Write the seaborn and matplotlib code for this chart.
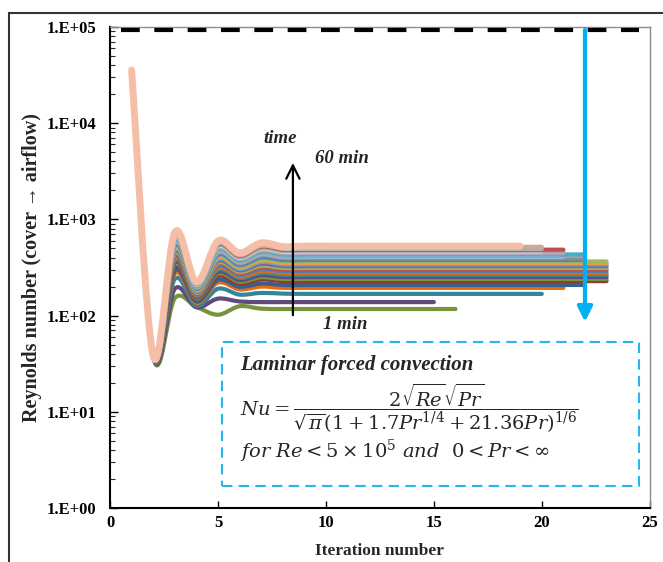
#!/usr/bin/env python3
# -*- coding: utf-8 -*-

"""
Reynolds number at the cover -> airflow boundary versus iteration number,
one curve per simulated minute (1 min at the bottom, 60 min on top).
"""

import numpy as np
import matplotlib
matplotlib.use("Agg")
import matplotlib.pyplot as plt
from matplotlib.path import Path
from matplotlib.patches import PathPatch, Rectangle
from matplotlib.ticker import LogLocator, NullFormatter
import seaborn as sns

# --- data ----------------------------------------------------------------
# every curve shares the first two iterations
re_start = [35700, 38]

# values at iterations 3..8, bottom curve (1 min) first
re_it3 = [152, 190, 240, 274, 294, 322, 339, 356, 373, 390, 407, 424, 442, 461, 480, 497,
          516, 534, 554, 572, 591, 610, 630, 650, 667, 684, 698, 708, 715, 722, 728, 735]
re_it4 = [123, 122, 126, 135, 140, 147, 150, 154, 158, 162, 165, 168, 172, 176, 179, 182,
          186, 189, 193, 196, 199, 202, 205, 209, 211, 214, 216, 219, 220, 221, 222, 223]
re_it5 = [102, 150, 190, 220, 235, 258, 272, 285, 299, 312, 326, 340, 354, 369, 385, 398,
          413, 428, 444, 458, 473, 489, 505, 521, 534, 548, 559, 572, 580, 586, 591, 596]
re_it6 = [125, 140, 165, 187, 199, 215, 225, 235, 245, 254, 264, 274, 284, 294, 305, 315,
          325, 335, 346, 356, 365, 376, 387, 397, 406, 415, 423, 431, 436, 441, 444, 448]
re_it7 = [118, 138, 172, 200, 215, 237, 250, 263, 276, 289, 302, 315, 330, 344, 360, 373,
          387, 402, 418, 432, 446, 461, 477, 493, 506, 520, 531, 544, 552, 558, 563, 569]
re_it8 = [117, 138, 169, 194, 208, 228, 240, 252, 264, 276, 288, 300, 313, 326, 340, 352,
          365, 378, 392, 405, 418, 432, 446, 460, 472, 484, 494, 505, 512, 518, 522, 520]
# flat level from iteration 9 up to the last iteration of each curve
re_plateau = [117, 138, 168, 194, 208, 228, 240, 252, 264, 276, 288, 300, 313, 326, 340, 352,
              365, 378, 392, 405, 418, 432, 446, 460, 472, 484, 494, 505, 512, 518, 522, 527]
last_iter = [16, 15, 20, 21, 22, 23, 23, 23, 23, 23, 23, 23, 23, 23, 23, 23,
             23, 22, 22, 21, 22, 22, 21, 20, 21, 21, 20, 20, 19, 20, 19, 19]

curve_colors = ['#77933C', '#604A7B', '#31859C', '#E46C0A', '#376092', '#953735',
                '#77933C', '#604A7B', '#31859C', '#E46C0A', '#4F81BD', '#C0504D',
                '#9BBB59', '#8064A2', '#4BACC6', '#F79646', '#9BBB59', '#4F81BD',
                '#8C8C8C', '#95B3D7', '#A6A6A6', '#4BACC6', '#B3A2C7', '#C3D69B',
                '#A5A5A5', '#C0504D', '#B9B9B9', '#D99694', '#E6B9B8', '#C8A9A0',
                '#F2C9B5', '#F4BFA6']

re_limit = 9.3e4
limit_x = [0.5, 24.5]

y_ticks = [1, 10, 100, 1000, 10000, 100000]
y_tick_labels = ['1.E+00', '1.E+01', '1.E+02', '1.E+03', '1.E+04', '1.E+05']
x_ticks = [0, 5, 10, 15, 20, 25]


def smooth_path(x, y):
    """Smoothed (Excel-like) Bezier path through the points, built in log-y space."""
    px = np.asarray(x, dtype=float)
    py = np.log10(np.asarray(y, dtype=float))
    n = len(px)
    verts = [(px[0], py[0])]
    codes = [Path.MOVETO]
    for i in range(n - 1):
        a = i - 1 if i > 0 else i
        b = i + 2 if i + 2 < n else i + 1
        c1 = (px[i] + (px[i + 1] - px[a]) / 6, py[i] + (py[i + 1] - py[a]) / 6)
        c2 = (px[i + 1] - (px[b] - px[i]) / 6, py[i + 1] - (py[b] - py[i]) / 6)
        verts += [c1, c2, (px[i + 1], py[i + 1])]
        codes += [Path.CURVE4] * 3
    verts = np.array(verts)
    verts[:, 1] = 10 ** verts[:, 1]
    return Path(verts, codes)


sns.set_theme(style="white")
plt.rcParams['font.family'] = ['Liberation Serif', 'DejaVu Serif']
plt.rcParams['mathtext.fontset'] = 'dejavuserif'

fig = plt.figure(figsize=(6.63, 5.62), dpi=100)
ax = fig.add_axes([0.166, 0.0961, 0.814, 0.856])
ax.set_yscale('log')
ax.set_xlim(0, 25)
ax.set_ylim(1, 1e5)

palette = sns.color_palette(curve_colors)

# curves, 1 min first so that 60 min ends up on top
for k in range(len(re_plateau)):
    n_iter = last_iter[k]
    xs = list(range(1, n_iter + 1))
    ys = re_start + [re_it3[k], re_it4[k], re_it5[k], re_it6[k], re_it7[k], re_it8[k]]
    ys = ys + [re_plateau[k]] * (n_iter - len(ys))
    lw = 5.0 if k == len(re_plateau) - 1 else 3.0
    patch = PathPatch(smooth_path(xs, ys), facecolor='none', edgecolor=palette[k],
                      lw=lw, capstyle='round', joinstyle='round', zorder=2 + k * 0.01)
    ax.add_patch(patch)

# upper limit line
ax.plot(limit_x, [re_limit, re_limit], color='black', lw=3, linestyle=(0, (4.5, 3.5)),
        solid_capstyle='butt', zorder=3)

# blue arrow
ax.annotate('', xy=(22.0, 86), xytext=(22.0, re_limit),
            arrowprops=dict(arrowstyle='-|>', color='#00B0F0', lw=3, mutation_scale=22,
                            shrinkA=0, shrinkB=0), zorder=4)

# time arrow
ax.annotate('', xy=(8.47, 3860), xytext=(8.47, 101),
            arrowprops=dict(arrowstyle='->', color='black', lw=1.6, mutation_scale=24,
                            shrinkA=0, shrinkB=0), zorder=4)
ax.text(7.87, 7000, 'time', ha='center', va='center', fontsize=13.5,
        fontweight='bold', fontstyle='italic')
ax.text(10.74, 4250, '60 min', ha='center', va='center', fontsize=13.5,
        fontweight='bold', fontstyle='italic')
ax.text(10.88, 80, '1 min', ha='center', va='center', fontsize=13.5,
        fontweight='bold', fontstyle='italic')

# correlation box
box = Rectangle((0.207, 0.0457), 0.774, 0.299, transform=ax.transAxes, fill=False,
                edgecolor='#29B6EE', lw=1.5, linestyle=(0, (5, 3)), zorder=5)
ax.add_patch(box)
ax.text(0.241, 0.287, 'Laminar forced convection', transform=ax.transAxes,
        ha='left', va='baseline', fontsize=15, fontweight='bold', fontstyle='italic')
ax.text(0.241, 0.208,
        r'$Nu = \dfrac{2\sqrt{Re}\sqrt{Pr}}{\sqrt{\pi}(1 + 1.7Pr^{1/4} + 21.36Pr)^{1/6}}$',
        transform=ax.transAxes, ha='left', va='center', fontsize=14)
ax.text(0.241, 0.104, r'$for\ Re < 5 \times 10^5\ and\ \ 0 < Pr < \infty$',
        transform=ax.transAxes, ha='left', va='baseline', fontsize=14)

# axes styling
ax.set_yticks(y_ticks)
ax.set_yticklabels(y_tick_labels, fontsize=12, fontweight='bold')
ax.yaxis.set_minor_locator(LogLocator(base=10, subs=range(2, 10), numticks=20))
ax.yaxis.set_minor_formatter(NullFormatter())
ax.set_xticks(x_ticks)
ax.set_xticklabels([str(t) for t in x_ticks], fontsize=12, fontweight='bold')
ax.tick_params(axis='y', which='major', direction='in', length=6, width=1, left=True,
               pad=10, colors='black')
ax.tick_params(axis='y', which='minor', direction='in', length=3.5, width=0.8, left=True)
ax.tick_params(axis='x', which='major', direction='in', length=5, width=1, bottom=True,
               pad=5, colors='black')
ax.set_xlabel('Iteration number', fontsize=12.5, fontweight='bold', labelpad=9)
ax.set_ylabel('Reynolds number (cover \u2192 airflow)', fontsize=14.5, fontweight='bold',
              labelpad=3)

for side in ['left', 'bottom']:
    ax.spines[side].set_color('black')
    ax.spines[side].set_linewidth(1.5)
for side in ['top', 'right']:
    ax.spines[side].set_color('#8C8C8C')
    ax.spines[side].set_linewidth(1.0)

# outer frame of the picture
fig.patches.append(Rectangle((9 / 663, -0.1), 1.2, (562 - 13) / 562 + 0.1,
                             transform=fig.transFigure, fill=False,
                             edgecolor='#333333', lw=1.5))

fig.savefig('out.png', dpi=100)
plt.close(fig)
